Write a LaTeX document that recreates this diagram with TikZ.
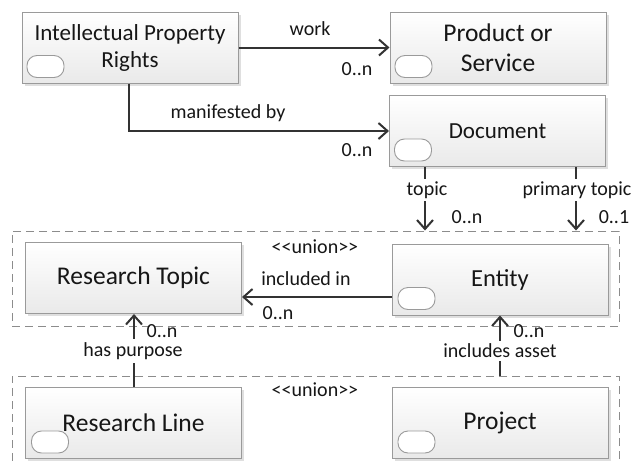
\documentclass[tikz,border=0pt]{standalone}
\usepackage{fontspec}
\setmainfont{Carlito}
\usetikzlibrary{arrows.meta,shadows}
\definecolor{txt}{HTML}{161616}
\definecolor{ln}{HTML}{333333}
\definecolor{bd}{HTML}{9A9A9A}
\definecolor{fr}{HTML}{8C8C8C}
\tikzset{
  box/.style={draw=bd, line width=1pt, top color=white, bottom color=gray!17,
    minimum width=216pt, minimum height=71pt, inner sep=0pt, align=center,
    font=\fontsize{23}{27}\selectfont, text=txt,
    drop shadow={shadow xshift=2.5pt, shadow yshift=-2.5pt, opacity=0.25}},
  bigbox/.style={box, font=\fontsize{25.5}{30}\selectfont},
  pill/.style={draw=bd, line width=0.9pt, fill=white, rounded corners=10pt,
    minimum width=37pt, minimum height=22pt, inner sep=0pt},
  frame/.style={draw=fr, line width=1pt, dash pattern=on 8pt off 5pt,
    inner sep=0pt},
  conn/.style={draw=ln, line width=2pt},
  arr/.style={conn, -{Straight Barb[length=9pt,width=16pt,line width=2pt]}},
  lbl/.style={font=\fontsize{20}{22}\selectfont, text=txt, inner sep=0pt},
  wlbl/.style={lbl, fill=white, inner sep=3pt},
}
\newcommand{\unionlbl}{<\kern0pt<union>\kern0pt>}
\begin{document}
\begin{tikzpicture}[x=1pt,y=-1pt]
\useasboundingbox[fill=white] (0,0) rectangle (633,464);

% union frames
\node[frame, minimum width=607pt, minimum height=95pt] (u1) at (315.5,278.5) {};
\node[frame, minimum width=607pt, minimum height=100pt] (u2) at (315.5,426) {};
\node[lbl] (un1) at (315,247) {\unionlbl};
\node[lbl] (un2) at (315,390) {\unionlbl};

% boxes
\node[box] (ipr) at (130,47.5) {Intellectual Property\\Rights};
\node[bigbox] (prod) at (498,47.5) {Product or\\Service};
\node[box] (doc) at (497.5,131) {Document};
\node[bigbox] (rt) at (133.5,278) {Research Topic};
\node[box, font=\fontsize{24.5}{28}\selectfont] (ent) at (500,279.5) {Entity};
\node[bigbox] (rl) at (133.5,423) {Research Line};
\node[bigbox] (proj) at (500,423) {Project};

% pills
\node[pill] (p1) at ([xshift=24pt,yshift=17pt]ipr.south west) {};
\node[pill] (p2) at ([xshift=24pt,yshift=17pt]prod.south west) {};
\node[pill] (p3) at ([xshift=24pt,yshift=17pt]doc.south west) {};
\node[pill] (p4) at ([xshift=25pt,yshift=17pt]ent.south west) {};
\node[pill] (p5) at ([xshift=25pt,yshift=17pt]rl.south west) {};
\node[pill] (p6) at ([xshift=25pt,yshift=17pt]proj.south west) {};

% coordinates for vertical connectors
\coordinate (tx) at (425,0);
\coordinate (ptx) at (576,0);
\coordinate (hx) at (134,0);
\coordinate (ix) at (500,0);
\coordinate (mx) at (129,0);

% work
\draw[arr] (ipr.east) -- (prod.west);
\node[lbl] (lwork) at (310,29) {work};
\node[lbl] (cwork) at (357,69) {0..n};

% manifested by
\draw[arr] (ipr.south -| mx) |- (doc.west);
\node[lbl] (lman) at (228,113) {manifested by};
\node[lbl] (cman) at (357,150) {0..n};

% topic
\draw[arr] (doc.south -| tx) -- (u1.north -| tx);
\node[wlbl] (ltop) at (427,190) {topic};
\node[lbl] (ctop) at (467,217) {0..n};

% primary topic
\draw[arr] (doc.south -| ptx) -- (u1.north -| ptx);
\node[wlbl] (lpt) at (577,190) {primary topic};
\node[lbl] (cpt) at (614,217) {0..1};

% included in
\draw[arr] ([yshift=-17.5pt]ent.west) -- ([yshift=-17.5pt]ent.west -| rt.east);
\node[lbl] (linc) at (306,279) {included in};
\node[lbl] (cinc) at (278,313) {0..n};

% has purpose
\draw[arr] (rl.north -| hx) -- (rt.south -| hx);
\node[wlbl] (lhp) at (133,351) {has purpose};
\node[lbl] (chp) at (162,331) {0..n};

% includes asset
\draw[arr] (u2.north -| ix) -- (ent.south -| ix);
\node[wlbl] (lia) at (500,351) {includes asset};
\node[lbl] (cia) at (529,331) {0..n};
\end{tikzpicture}
\end{document}
